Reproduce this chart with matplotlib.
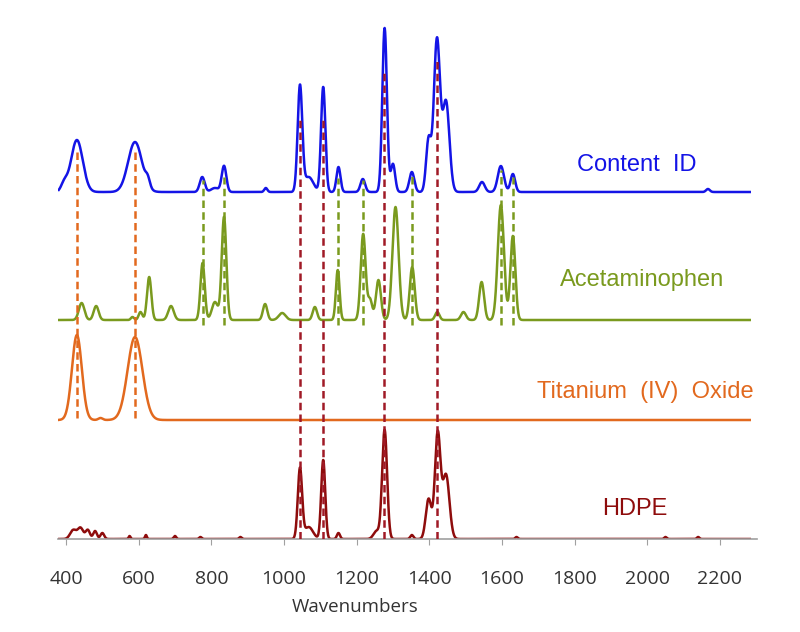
import numpy as np
import matplotlib
matplotlib.use("Agg")
import matplotlib.pyplot as plt

# wavenumber grid for the spectra
x_start, x_end = 380, 2282

# peak tables: centre (cm-1), height, FWHM
content_pos = [395, 430, 590, 625, 775, 810, 835, 950, 1044, 1068, 1108, 1150, 1217,
               1277, 1300, 1352, 1398, 1421, 1446, 1545, 1597, 1630, 2167]
content_h = [8, 52, 50, 8, 15, 4, 26, 4, 105, 15, 105, 25, 13,
             164, 28, 20, 52, 152, 90, 10, 26, 18, 3]
content_w = [20, 38, 45, 14, 16, 25, 15, 10, 15, 30, 14, 13, 15,
             15, 14, 16, 16, 20, 22, 18, 20, 15, 12]

acet_pos = [443, 483, 583, 605, 629, 689, 776, 810, 835, 948, 995, 1085, 1148, 1218,
            1237, 1260, 1307, 1353, 1422, 1494, 1544, 1597, 1630]
acet_h = [17, 14, 3, 8, 43, 14, 57, 18, 103, 16, 7, 13, 50, 86,
          20, 40, 113, 53, 8, 8, 38, 115, 84]
acet_w = [18, 16, 10, 12, 14, 18, 14, 20, 15, 14, 22, 14, 12, 16,
          14, 16, 20, 16, 14, 16, 16, 20, 16]

tio2_pos = [430, 495, 590]
tio2_h = [85, 2, 83]
tio2_w = [32, 14, 48]

hdpe_pos = [420, 440, 460, 480, 500, 575, 620, 700, 770, 880, 1044, 1068, 1108, 1150,
            1255, 1277, 1352, 1398, 1423, 1446, 1640, 2050, 2140]
hdpe_h = [9, 11, 9, 8, 6, 3, 4, 3, 2, 2, 70, 12, 79, 6,
          8, 109, 4, 40, 105, 64, 2, 2, 2]
hdpe_w = [20, 18, 14, 12, 12, 6, 6, 8, 8, 8, 14, 28, 13, 10,
          20, 16, 10, 18, 18, 22, 8, 8, 8]

names = ["Content  ID", "Acetaminophen", "Titanium  (IV)  Oxide", "HDPE"]
offsets = [347, 219, 119, 0]
colors = ["#1414E6", "#7A9A1E", "#E2691E", "#8E0C0C"]
label_xy = [(1972, 374), (1985, 259), (1994, 147), (1966, 30)]

# dashed guide lines
guide_orange = [430, 590]
guide_green = [776, 835, 1149, 1217, 1352, 1597, 1630]
guide_green_top = [359, 362, 361, 359, 366, 369, 362]
guide_red = [1044, 1108, 1276, 1421]
guide_red_top = [422, 422, 466, 481]


def spectrum(x, pos, h, w):
    y = np.zeros_like(x)
    for p, a, fw in zip(pos, h, w):
        s = fw / 2.355
        y += a * np.exp(-0.5 * ((x - p) / s) ** 2)
    return y


x = np.linspace(x_start, x_end, 4000)
tables = [(content_pos, content_h, content_w), (acet_pos, acet_h, acet_w),
          (tio2_pos, tio2_h, tio2_w), (hdpe_pos, hdpe_h, hdpe_w)]

fig = plt.figure(figsize=(8, 6.32), dpi=100)
ax = fig.add_axes([58 / 800, 93 / 632, 699 / 800, 519 / 632])

for (pos, h, w), off, c in zip(tables, offsets, colors):
    ax.plot(x, off + spectrum(x, pos, h, w), color=c, lw=1.8, zorder=2)

dash = (0, (3, 1.7))
for p in guide_orange:
    ax.plot([p, p], [121, 391], color="#E2691E", lw=1.8, ls=dash, zorder=3)
for p, t in zip(guide_green, guide_green_top):
    ax.plot([p, p], [214, t], color="#7A9A1E", lw=1.8, ls=dash, zorder=3)
for p, t in zip(guide_red, guide_red_top):
    ax.plot([p, p], [0, t], color="#A01A26", lw=1.8, ls=dash, zorder=3)

for name, (lx, ly), c in zip(names, label_xy, colors):
    ax.text(lx, ly, name, color=c, fontsize=17, family="Liberation Sans",
            ha="center", va="center")

ax.set_xlim(378, 2302)
ax.set_ylim(0, 519)
for s in ["top", "right", "left"]:
    ax.spines[s].set_visible(False)
ax.spines["bottom"].set_color("#A0A0A0")
ax.spines["bottom"].set_linewidth(1.2)
ax.set_yticks([])
ax.set_xticks(range(400, 2201, 200))
ax.tick_params(axis="x", direction="out", length=4, color="#A0A0A0",
               labelsize=14, labelcolor="#333333", pad=18)
for lab in ax.get_xticklabels():
    lab.set_family("Open Sans")
ax.text(0.425, -0.131, "Wavenumbers", transform=ax.transAxes, fontsize=13.5,
        color="#333333", family="Open Sans", ha="center", va="center")

fig.savefig("out.png", dpi=100)
